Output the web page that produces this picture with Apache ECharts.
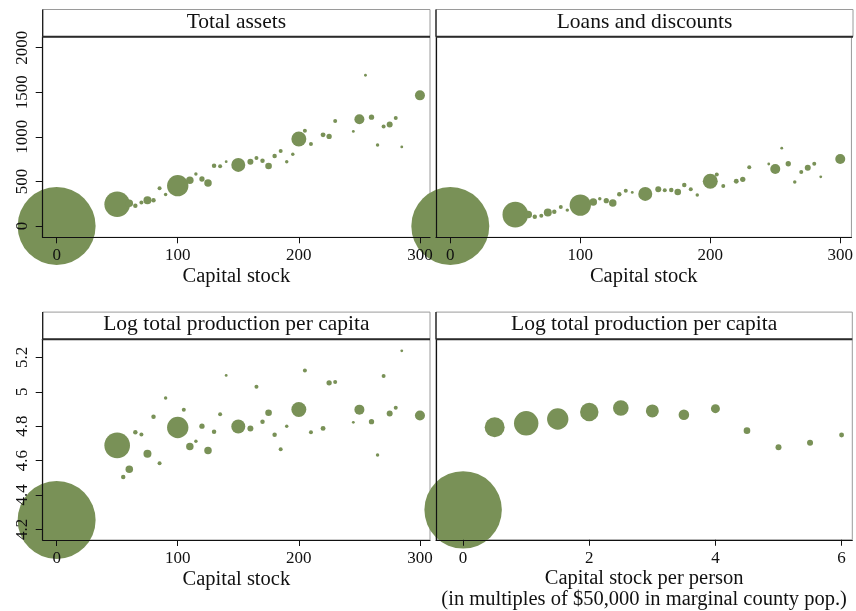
<!DOCTYPE html>
<html>
<head>
<meta charset="utf-8">
<script src="https://cdn.jsdelivr.net/npm/echarts@6/dist/echarts.min.js"></script>
<style>
  html, body { margin: 0; padding: 0; background: #fff; }
  #chart { width: 856px; height: 611px; }
</style>
</head>
<body>
<div id="chart"></div>
<script>
// Capital stock bins shared by the first three panels
const capitalStock = [0, 50, 55, 60, 65, 70, 75, 80, 85, 90, 100, 105, 110, 115, 120, 125, 130, 135, 140,
  150, 160, 165, 170, 175, 180, 185, 190, 195, 200, 205, 210, 220, 225, 230, 245, 250, 255, 260, 265,
  270, 275, 280, 285, 300];
// Relative weight of each bin (bubble area)
const binWeights = [1520, 164, 5, 14, 5, 4, 16, 5, 4, 3, 114, 4, 14, 3, 7, 14, 5, 4, 2,
  49, 9, 4, 5, 11, 5, 4, 3, 3, 56, 4, 4, 6, 7, 4, 2, 25, 2, 7, 3,
  4, 9, 4, 2, 25];
const totalAssets = [0, 243, null, 255, 228, 262, 288, 288, 422, 353, 452, null, 512, 583, 527, 482, 676, 669, 721,
  685, 721, 762, 732, 673, 785, 841, 721, 804, 975, 1069, 919, 1022, 1005, 1177, 1061, 1198, 1691, 1220, 908,
  1115, 1138, 1211, 887, 1465];
const loansDiscounts = [0, 127, null, 129, 103, 116, 151, 160, 213, 178, 234, null, 270, 306, 284, 258, 355, 394, 376,
  360, 411, 400, 404, 381, 460, 413, 348, null, 502, 577, 448, 502, 523, 658, 695, 639, 873, 698, 493,
  605, 654, 698, 551, 751];
const logProduction = [4.254, 4.688, 4.504, 4.549, 4.765, 4.751, 4.640, 4.855, 4.585, 4.964, 4.792, 4.895, 4.681, 4.712, 4.800, 4.659, 4.768, 4.869, 5.095,
  4.798, 4.787, 5.029, 4.826, 4.878, 4.750, 4.665, 4.799, null, 4.897, 5.123, 4.764, 4.787, 5.052, 5.056, 4.822, 4.896, null, 4.826, 4.632,
  5.091, 4.874, 4.907, 5.238, 4.862];

// Capital stock per person bins for the last panel
const stockPerPerson = [0, 0.5, 1, 1.5, 2, 2.5, 3, 3.5, 4, 4.5, 5, 5.5, 6];
const perPersonWeights = [1500, 100, 149, 114, 85, 61, 42, 28, 20, 11, 9, 9, 6];
const logProductionPerPerson = [4.312, 4.793, 4.816, 4.841, 4.882, 4.905, 4.888, 4.866, 4.901, 4.773, 4.677, 4.702, 4.748];

const panelTitles = ['Total assets', 'Loans and discounts',
  'Log total production per capita', 'Log total production per capita'];
const xAxisTitles = ['Capital stock', 'Capital stock', 'Capital stock',
  'Capital stock per person\n(in multiples of $50,000 in marginal county pop.)'];
const stockTicks = [0, 100, 200, 300];
const perPersonTicks = [0, 2, 4, 6];
const assetTicks = [0, 500, 1000, 1500, 2000];
const productionTicks = [4.2, 4.4, 4.6, 4.8, 5, 5.2];

const FONT = '"Liberation Serif", "Times New Roman", serif';
const GREEN = '#799157';
const INK = '#111';
const FRAME = '#9a9a9a';

// Plot regions
const grids = [
  { left: 42.7, top: 36.7, width: 387.3, height: 200.6 },
  { left: 436,  top: 36.7, width: 417,   height: 200.6 },
  { left: 42.7, top: 339.3, width: 387.3, height: 200.7 },
  { left: 436,  top: 339.3, width: 416.3, height: 200.7 }
];
const BAND = 27.2;

const xRanges = [[-11.5, 308.3], [-11, 308.6], [-11.5, 308.3], [-0.43, 6.17]];
const yRanges = [[-127, 2123], [-127, 2123], [4.138, 5.305], [4.138, 5.305]];
const xTicks = [stockTicks, stockTicks, stockTicks, perPersonTicks];
const yTicks = [assetTicks, null, productionTicks, null];

function toPoints(xs, ys, ws) {
  const out = [];
  xs.forEach((x, i) => { if (ys[i] != null) out.push([x, ys[i], ws[i]]); });
  return out;
}
const panelData = [
  toPoints(capitalStock, totalAssets, binWeights),
  toPoints(capitalStock, loansDiscounts, binWeights),
  toPoints(capitalStock, logProduction, binWeights),
  toPoints(stockPerPerson, logProductionPerPerson, perPersonWeights)
];

const plainNumber = v => String(v);

const xAxes = grids.map((g, i) => ({
  type: 'value', gridIndex: i, min: xRanges[i][0], max: xRanges[i][1], z: 10,
  axisLine: { show: true, onZero: false, lineStyle: { color: INK, width: 1.2 } },
  axisTick: { show: true, length: 6, customValues: xTicks[i], lineStyle: { color: INK, width: 1 } },
  axisLabel: { show: true, customValues: xTicks[i], formatter: plainNumber, margin: 10,
               fontFamily: FONT, fontSize: 17, color: INK },
  splitLine: { show: false },
  name: xAxisTitles[i], nameLocation: 'middle', nameGap: 29,
  nameTextStyle: { fontFamily: FONT, fontSize: 20.5, color: INK, lineHeight: 20.5 }
}));

const yAxes = grids.map((g, i) => ({
  type: 'value', gridIndex: i, min: yRanges[i][0], max: yRanges[i][1], z: 10,
  axisLine: { show: true, onZero: false, lineStyle: { color: INK, width: 1.2 } },
  axisTick: yTicks[i] ? { show: true, length: 7, customValues: yTicks[i], lineStyle: { color: INK, width: 1 } } : { show: false },
  axisLabel: yTicks[i] ? { show: true, customValues: yTicks[i], formatter: plainNumber, rotate: 90, margin: 12,
                           fontFamily: FONT, fontSize: 17, color: INK } : { show: false },
  splitLine: { show: false }
}));

const series = panelData.map((pts, i) => ({
  type: 'scatter', xAxisIndex: i, yAxisIndex: i, data: pts, clip: false,
  symbolSize: v => 2 * Math.sqrt(v[2]),
  itemStyle: { color: GREEN, opacity: 1 },
  emphasis: { disabled: true },
  silent: true
}));

// Title bands above each plot region
const graphics = [];
grids.forEach((g, i) => {
  const top = g.top - BAND;
  graphics.push({
    type: 'rect', z: 20,
    shape: { x: g.left, y: top, width: g.width, height: BAND },
    style: { fill: '#fff', stroke: FRAME, lineWidth: 1 }
  });
  graphics.push({
    type: 'line', z: 21,
    shape: { x1: g.left, y1: top, x2: g.left, y2: g.top },
    style: { stroke: INK, lineWidth: 1.2 }
  });
  graphics.push({
    type: 'line', z: 21,
    shape: { x1: g.left, y1: g.top, x2: g.left + g.width, y2: g.top },
    style: { stroke: '#2a2a2a', lineWidth: 2 }
  });
  graphics.push({
    type: 'text', z: 22,
    x: g.left + g.width / 2, y: top + BAND / 2 - 1,
    style: { text: panelTitles[i], align: 'center', verticalAlign: 'middle',
             font: '21.5px ' + FONT, fill: INK }
  });
});

const chart = echarts.init(document.getElementById('chart'), null, { renderer: 'canvas' });
chart.setOption({
  animation: false,
  backgroundColor: '#fff',
  grid: grids.map(g => Object.assign({ show: true, borderColor: FRAME, borderWidth: 1, backgroundColor: 'transparent' }, g)),
  xAxis: xAxes,
  yAxis: yAxes,
  series: series,
  graphic: graphics
});
</script>
</body>
</html>
